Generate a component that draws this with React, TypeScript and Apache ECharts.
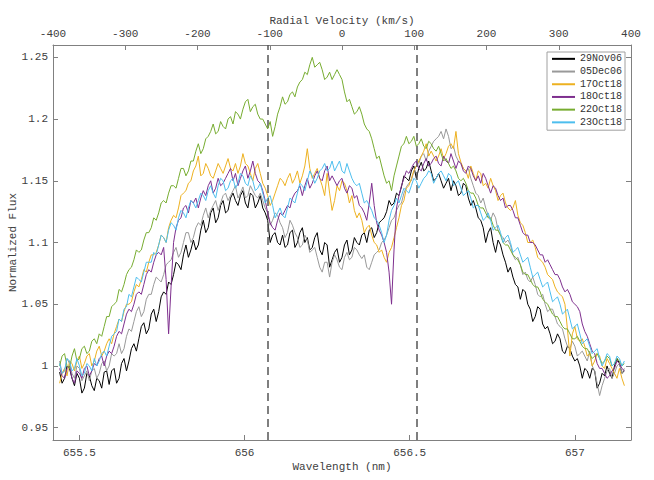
import React, { useEffect, useRef } from "react";
import * as echarts from "echarts";

// Regular wavelength sampling grid (nm)
const WAVELENGTH_START = 655.44;
const WAVELENGTH_STEP = 0.0075;

const SERIES_NAMES = ["29Nov06", "05Dec06", "17Oct18", "18Oct18", "22Oct18", "23Oct18"];
const SERIES_COLORS = ["#000000", "#999999", "#EDB120", "#7E2F8E", "#77AC30", "#4DBEEE"];

const FLUX_29NOV06 = [
  0.995, 0.986, 0.99, 1.0, 0.998, 0.99, 0.984, 0.994, 0.99, 0.978, 0.982, 0.994,
  0.992, 0.984, 0.98, 0.99, 0.988, 0.982, 0.995, 0.996, 0.985, 0.996,
  0.998, 0.986, 0.99, 1.002, 1.006, 0.996, 1.004, 1.014, 1.018, 1.012,
  1.022, 1.032, 1.035, 1.026, 1.03, 1.042, 1.046, 1.036, 1.044, 1.056,
  1.06, 1.058, 1.068, 1.066, 1.074, 1.084, 1.082, 1.078, 1.09, 1.098,
  1.088, 1.094, 1.102, 1.094, 1.098, 1.11, 1.118, 1.108, 1.112, 1.124,
  1.128, 1.116, 1.12, 1.13, 1.134, 1.124, 1.126, 1.136, 1.14, 1.134,
  1.13, 1.138, 1.142, 1.132, 1.128, 1.14, 1.138, 1.128, 1.132, 1.138,
  1.128, 1.124, 1.118, 1.1, 1.106, 1.108, 1.1, 1.098, 1.106, 1.096,
  1.098, 1.108, 1.11, 1.096, 1.1, 1.108, 1.112, 1.1, 1.104, 1.094,
  1.096, 1.104, 1.108, 1.094, 1.09, 1.1, 1.098, 1.08, 1.086, 1.092,
  1.095, 1.084, 1.088, 1.098, 1.102, 1.09, 1.094, 1.104, 1.1, 1.098,
  1.106, 1.108, 1.1, 1.11, 1.112, 1.104, 1.108, 1.116, 1.118, 1.12,
  1.125, 1.134, 1.13, 1.132, 1.14, 1.138, 1.145, 1.154, 1.152, 1.15,
  1.158, 1.162, 1.152, 1.16, 1.165, 1.158, 1.16, 1.166, 1.158, 1.15,
  1.152, 1.156, 1.15, 1.144, 1.148, 1.152, 1.142, 1.15, 1.146, 1.138,
  1.14, 1.148, 1.146, 1.136, 1.13, 1.134, 1.128, 1.12, 1.118, 1.112,
  1.1, 1.108, 1.112, 1.1, 1.092, 1.102, 1.098, 1.09, 1.084, 1.076,
  1.08, 1.072, 1.066, 1.064, 1.054, 1.062, 1.06, 1.05, 1.046, 1.036,
  1.04, 1.048, 1.046, 1.034, 1.03, 1.032, 1.026, 1.018, 1.02, 1.026,
  1.022, 1.012, 1.01, 1.016, 1.014, 1.008, 1.004, 1.006, 1.0, 0.99,
  0.998, 0.996, 0.99, 0.998, 0.996, 0.982, 0.986, 0.994, 0.992, 1.0,
  0.994, 0.99, 1.0, 1.006, 1.002, 0.994, 0.996,
];

const FLUX_05DEC06 = [
  1.004, 0.994, 0.996, 1.006, 1.002, 0.994, 0.99, 1.0, 0.998, 0.988, 0.992, 0.996,
  0.988, 0.996, 0.998, 0.99, 0.994, 1.002, 1.004, 0.996, 1.0, 1.01,
  1.008, 1.01, 1.018, 1.01, 1.014, 1.024, 1.03, 1.028, 1.036, 1.044,
  1.048, 1.04, 1.044, 1.054, 1.058, 1.058, 1.066, 1.072, 1.07, 1.068,
  1.074, 1.082, 1.084, 1.086, 1.092, 1.096, 1.088, 1.092, 1.1, 1.108,
  1.108, 1.1, 1.104, 1.112, 1.116, 1.114, 1.122, 1.128, 1.12, 1.126,
  1.13, 1.134, 1.126, 1.132, 1.138, 1.14, 1.134, 1.138, 1.142, 1.146,
  1.136, 1.14, 1.145, 1.136, 1.138, 1.146, 1.142, 1.138, 1.136, 1.14,
  1.134, 1.128, 1.124, 1.114, 1.118, 1.124, 1.122, 1.116, 1.112, 1.104,
  1.108, 1.118, 1.114, 1.108, 1.104, 1.096, 1.098, 1.106, 1.102, 1.092,
  1.094, 1.096, 1.088, 1.08, 1.076, 1.084, 1.084, 1.072, 1.084, 1.09,
  1.086, 1.08, 1.078, 1.088, 1.092, 1.086, 1.088, 1.096, 1.094, 1.09,
  1.087, 1.09, 1.08, 1.078, 1.084, 1.09, 1.092, 1.094, 1.1, 1.102,
  1.106, 1.112, 1.118, 1.12, 1.126, 1.13, 1.132, 1.14, 1.145, 1.148,
  1.15, 1.158, 1.162, 1.164, 1.17, 1.172, 1.166, 1.174, 1.178, 1.182,
  1.184, 1.186, 1.19, 1.184, 1.192, 1.186, 1.176, 1.178, 1.17, 1.166,
  1.164, 1.16, 1.158, 1.16, 1.152, 1.146, 1.14, 1.138, 1.132, 1.136,
  1.128, 1.122, 1.118, 1.124, 1.12, 1.11, 1.106, 1.104, 1.1, 1.102,
  1.098, 1.09, 1.086, 1.088, 1.082, 1.074, 1.076, 1.07, 1.068, 1.072,
  1.066, 1.058, 1.056, 1.058, 1.05, 1.044, 1.046, 1.046, 1.04, 1.034,
  1.032, 1.03, 1.022, 1.016, 1.014, 1.02, 1.016, 1.008, 1.01, 1.012,
  1.008, 1.004, 1.012, 1.0, 0.996, 0.986, 0.976, 0.984, 0.99, 0.996,
  0.998, 0.99, 0.994, 1.0, 1.002, 0.994, 0.998,
];

const FLUX_17OCT18 = [
  0.986, 0.994, 0.998, 0.992, 1.004, 1.002, 0.996, 1.004, 1.008, 0.998, 1.002, 1.008,
  1.01, 1.0, 1.004, 1.012, 1.016, 1.008, 1.012, 1.018, 1.022, 1.018,
  1.026, 1.032, 1.038, 1.036, 1.044, 1.05, 1.05, 1.052, 1.06, 1.066,
  1.064, 1.07, 1.078, 1.076, 1.084, 1.09, 1.09, 1.092, 1.098, 1.106,
  1.104, 1.1, 1.112, 1.118, 1.122, 1.12, 1.128, 1.138, 1.14, 1.142,
  1.148, 1.15, 1.158, 1.162, 1.17, 1.154, 1.156, 1.164, 1.16, 1.154,
  1.152, 1.158, 1.164, 1.16, 1.156, 1.162, 1.168, 1.16, 1.158, 1.164,
  1.156, 1.162, 1.172, 1.164, 1.162, 1.156, 1.15, 1.16, 1.164, 1.156,
  1.148, 1.144, 1.138, 1.13, 1.134, 1.14, 1.146, 1.152, 1.15, 1.146,
  1.152, 1.156, 1.148, 1.152, 1.158, 1.148, 1.154, 1.162, 1.176, 1.16,
  1.152, 1.156, 1.16, 1.152, 1.146, 1.138, 1.156, 1.14, 1.126, 1.134,
  1.146, 1.142, 1.15, 1.148, 1.142, 1.132, 1.138, 1.126, 1.12, 1.124,
  1.118, 1.108, 1.112, 1.114, 1.106, 1.1, 1.098, 1.092, 1.094, 1.088,
  1.084, 1.092, 1.096, 1.104, 1.112, 1.12, 1.13, 1.134, 1.144, 1.146,
  1.152, 1.158, 1.162, 1.166, 1.17, 1.174, 1.18, 1.17, 1.174, 1.17,
  1.166, 1.17, 1.176, 1.168, 1.172, 1.178, 1.18, 1.176, 1.19, 1.172,
  1.165, 1.16, 1.158, 1.152, 1.162, 1.156, 1.15, 1.158, 1.156, 1.146,
  1.148, 1.144, 1.152, 1.146, 1.142, 1.134, 1.138, 1.14, 1.132, 1.128,
  1.126, 1.128, 1.134, 1.122, 1.116, 1.114, 1.108, 1.1, 1.1, 1.102,
  1.096, 1.088, 1.086, 1.084, 1.08, 1.074, 1.072, 1.07, 1.064, 1.06,
  1.058, 1.056, 1.05, 1.03, 1.008, 1.026, 1.032, 1.022, 1.02, 1.022,
  1.016, 1.008, 1.01, 1.0, 1.004, 1.01, 1.008, 1.0, 0.998, 1.006,
  1.002, 0.998, 0.994, 0.99, 0.998, 0.99, 0.984,
];

const FLUX_18OCT18 = [
  0.998, 0.992, 0.99, 0.998, 1.0, 0.99, 0.986, 0.996, 0.994, 0.99, 0.998, 1.0,
  0.992, 0.996, 1.002, 1.0, 1.006, 1.008, 1.0, 1.008, 1.012, 1.01,
  1.016, 1.024, 1.028, 1.026, 1.034, 1.042, 1.046, 1.044, 1.05, 1.058,
  1.06, 1.058, 1.066, 1.074, 1.078, 1.076, 1.084, 1.09, 1.092, 1.09,
  1.096, 1.07, 1.026, 1.064, 1.1, 1.112, 1.118, 1.12, 1.128, 1.13,
  1.124, 1.134, 1.132, 1.136, 1.128, 1.136, 1.142, 1.138, 1.146, 1.15,
  1.14, 1.144, 1.152, 1.146, 1.148, 1.152, 1.156, 1.16, 1.15, 1.156,
  1.146, 1.152, 1.158, 1.162, 1.152, 1.158, 1.166, 1.156, 1.15, 1.148,
  1.142, 1.134, 1.124, 1.116, 1.112, 1.11, 1.118, 1.124, 1.122, 1.126,
  1.13, 1.128, 1.136, 1.14, 1.142, 1.146, 1.138, 1.146, 1.152, 1.144,
  1.148, 1.154, 1.158, 1.152, 1.15, 1.158, 1.162, 1.15, 1.154, 1.15,
  1.146, 1.15, 1.152, 1.144, 1.14, 1.146, 1.144, 1.136, 1.138, 1.13,
  1.128, 1.124, 1.118, 1.132, 1.148, 1.13, 1.116, 1.11, 1.106, 1.1,
  1.092, 1.076, 1.05, 1.094, 1.128, 1.138, 1.146, 1.152, 1.158, 1.156,
  1.16, 1.164, 1.166, 1.16, 1.158, 1.164, 1.168, 1.162, 1.164, 1.168,
  1.17, 1.164, 1.162, 1.17, 1.166, 1.164, 1.172, 1.166, 1.16, 1.166,
  1.164, 1.158, 1.156, 1.162, 1.16, 1.154, 1.15, 1.154, 1.148, 1.156,
  1.152, 1.146, 1.14, 1.146, 1.144, 1.138, 1.134, 1.136, 1.128, 1.13,
  1.13, 1.126, 1.12, 1.12, 1.114, 1.108, 1.106, 1.106, 1.1, 1.1,
  1.098, 1.094, 1.09, 1.09, 1.084, 1.086, 1.082, 1.078, 1.074, 1.074,
  1.07, 1.064, 1.06, 1.062, 1.058, 1.052, 1.05, 1.048, 1.044, 1.034,
  1.028, 1.024, 1.018, 1.012, 1.01, 1.002, 0.998, 0.998, 0.994, 0.99,
  0.992, 0.996, 0.998, 1.004, 1.002, 0.998, 0.996,
];

const FLUX_22OCT18 = [
  1.0, 1.008, 1.01, 1.0, 0.998, 1.008, 1.014, 1.004, 1.006, 1.014, 1.016, 1.01,
  1.012, 1.02, 1.022, 1.018, 1.026, 1.024, 1.032, 1.04, 1.04, 1.048,
  1.05, 1.052, 1.062, 1.06, 1.066, 1.074, 1.078, 1.08, 1.086, 1.094,
  1.092, 1.094, 1.102, 1.108, 1.108, 1.112, 1.12, 1.118, 1.124, 1.132,
  1.134, 1.132, 1.14, 1.146, 1.146, 1.144, 1.152, 1.16, 1.16, 1.154,
  1.158, 1.166, 1.166, 1.174, 1.18, 1.172, 1.176, 1.184, 1.186, 1.19,
  1.196, 1.188, 1.19, 1.198, 1.194, 1.192, 1.2, 1.202, 1.196, 1.206,
  1.204, 1.2, 1.208, 1.214, 1.216, 1.206, 1.21, 1.212, 1.204, 1.2,
  1.2, 1.196, 1.192, 1.198, 1.186, 1.194, 1.204, 1.21, 1.218, 1.212,
  1.214, 1.22, 1.222, 1.218, 1.226, 1.23, 1.232, 1.238, 1.236, 1.244,
  1.25, 1.242, 1.244, 1.246, 1.24, 1.232, 1.234, 1.238, 1.232, 1.236,
  1.24, 1.236, 1.232, 1.222, 1.214, 1.216, 1.21, 1.204, 1.206, 1.21,
  1.204, 1.196, 1.192, 1.19, 1.184, 1.176, 1.168, 1.17, 1.162, 1.154,
  1.148, 1.15, 1.142, 1.154, 1.162, 1.17, 1.178, 1.18, 1.186, 1.18,
  1.182, 1.186, 1.178, 1.18, 1.184, 1.178, 1.176, 1.182, 1.18, 1.176,
  1.174, 1.178, 1.172, 1.166, 1.168, 1.164, 1.16, 1.162, 1.158, 1.152,
  1.15, 1.152, 1.148, 1.142, 1.14, 1.14, 1.136, 1.13, 1.128, 1.128,
  1.124, 1.12, 1.12, 1.114, 1.11, 1.11, 1.106, 1.1, 1.098, 1.098,
  1.094, 1.09, 1.088, 1.086, 1.082, 1.076, 1.074, 1.074, 1.07, 1.066,
  1.064, 1.064, 1.06, 1.054, 1.052, 1.05, 1.046, 1.042, 1.04, 1.04,
  1.036, 1.032, 1.03, 1.03, 1.026, 1.022, 1.022, 1.024, 1.02, 1.016,
  1.014, 1.014, 1.01, 1.006, 1.008, 1.01, 1.006, 1.002, 1.004, 1.008,
  1.006, 1.0, 1.002, 1.006, 1.004, 1.0, 1.002,
];

const FLUX_23OCT18 = [
  1.002, 0.994, 0.996, 1.006, 1.004, 0.996, 0.998, 1.006, 1.0, 0.992, 0.994, 1.002,
  1.0, 0.996, 1.006, 1.0, 1.004, 1.01, 1.012, 1.008, 1.016, 1.024,
  1.026, 1.028, 1.038, 1.036, 1.046, 1.048, 1.058, 1.056, 1.064, 1.072,
  1.07, 1.068, 1.076, 1.084, 1.084, 1.084, 1.092, 1.09, 1.098, 1.106,
  1.104, 1.1, 1.11, 1.116, 1.114, 1.11, 1.12, 1.126, 1.124, 1.12,
  1.128, 1.134, 1.132, 1.128, 1.134, 1.14, 1.138, 1.134, 1.142, 1.146,
  1.14, 1.136, 1.146, 1.152, 1.15, 1.142, 1.144, 1.15, 1.152, 1.144,
  1.148, 1.156, 1.154, 1.148, 1.146, 1.154, 1.15, 1.142, 1.144, 1.148,
  1.14, 1.132, 1.136, 1.138, 1.13, 1.12, 1.124, 1.128, 1.122, 1.12,
  1.128, 1.136, 1.134, 1.132, 1.14, 1.148, 1.146, 1.142, 1.15, 1.158,
  1.154, 1.148, 1.152, 1.158, 1.16, 1.164, 1.158, 1.16, 1.166, 1.158,
  1.162, 1.166, 1.158, 1.156, 1.164, 1.158, 1.152, 1.148, 1.146, 1.148,
  1.14, 1.132, 1.134, 1.13, 1.126, 1.12, 1.118, 1.114, 1.108, 1.1,
  1.106, 1.118, 1.126, 1.13, 1.136, 1.132, 1.138, 1.144, 1.142, 1.14,
  1.146, 1.152, 1.15, 1.144, 1.148, 1.152, 1.154, 1.158, 1.156, 1.148,
  1.152, 1.156, 1.158, 1.154, 1.15, 1.156, 1.154, 1.146, 1.148, 1.15,
  1.144, 1.138, 1.14, 1.142, 1.136, 1.128, 1.13, 1.13, 1.124, 1.118,
  1.12, 1.124, 1.118, 1.11, 1.112, 1.114, 1.108, 1.1, 1.104, 1.106,
  1.1, 1.092, 1.094, 1.096, 1.09, 1.084, 1.086, 1.088, 1.08, 1.072,
  1.074, 1.076, 1.07, 1.064, 1.066, 1.068, 1.06, 1.052, 1.054, 1.056,
  1.05, 1.042, 1.044, 1.046, 1.038, 1.03, 1.032, 1.034, 1.026, 1.018,
  1.02, 1.022, 1.016, 1.01, 1.012, 1.014, 1.006, 1.0, 1.004, 1.01,
  1.008, 1.0, 1.002, 1.008, 1.006, 1.0, 1.004,
];

const SERIES_FLUX = [FLUX_29NOV06, FLUX_05DEC06, FLUX_17OCT18, FLUX_18OCT18, FLUX_22OCT18, FLUX_23OCT18];

const DASHED_WAVELENGTHS = [656.07, 656.525];

const WAVELENGTH_MIN = 655.42;
const WAVELENGTH_MAX = 657.17;
const VELOCITY_MIN = -400;
const VELOCITY_MAX = 400;
const VELOCITY_INTERVAL = 100;
const FLUX_MIN = 0.94;
const FLUX_MAX = 1.26;

const FONT = "'Liberation Mono', 'DejaVu Sans Mono', monospace";
const AXIS_COLOR = "#808080";
const TEXT_COLOR = "#404040";

export default function App() {
  const ref = useRef<HTMLDivElement>(null);

  useEffect(() => {
    if (!ref.current) return;
    const chart = echarts.init(ref.current, undefined, { renderer: "svg" });

    const axisLine = { show: true, onZero: false, lineStyle: { color: AXIS_COLOR, width: 1 } };
    const axisTick = { show: true, inside: true, length: 5, lineStyle: { color: AXIS_COLOR, width: 1 } };
    const labelStyle = { color: TEXT_COLOR, fontFamily: FONT, fontSize: 11 };
    const nameStyle = { color: TEXT_COLOR, fontFamily: FONT, fontSize: 11 };

    const series: any[] = SERIES_NAMES.map((name, i) => ({
      type: "line",
      name,
      xAxisIndex: 0,
      yAxisIndex: 0,
      symbol: "none",
      showSymbol: false,
      lineStyle: { width: 1, color: SERIES_COLORS[i] },
      itemStyle: { color: SERIES_COLORS[i] },
      data: SERIES_FLUX[i].map((f, k) => [WAVELENGTH_START + WAVELENGTH_STEP * k, f]),
      z: 2 + i,
    }));
    series[0].markLine = {
      silent: true,
      symbol: ["none", "none"],
      label: { show: false },
      lineStyle: { type: [8, 5], color: "#555555", width: 1.5 },
      data: DASHED_WAVELENGTHS.map((x) => ({ xAxis: x })),
    };

    chart.setOption({
      animation: false,
      backgroundColor: "#ffffff",
      grid: {
        left: 53,
        right: 23,
        top: 45,
        bottom: 40,
        containLabel: false,
        outerBoundsMode: "none",
      },
      legend: {
        left: 547,
        top: 52,
        orient: "vertical",
        padding: [1, 3, 2, 5],
        itemGap: 1,
        itemWidth: 23,
        itemHeight: 2,
        icon: "rect",
        backgroundColor: "#ffffff",
        borderColor: "#a0a0a0",
        borderWidth: 1,
        borderRadius: 0,
        textStyle: { fontFamily: FONT, fontSize: 10, color: "#333333", lineHeight: 11.7 },
        data: SERIES_NAMES,
      },
      xAxis: [
        {
          type: "value",
          position: "bottom",
          min: WAVELENGTH_MIN,
          max: WAVELENGTH_MAX,
          splitNumber: 4,
          minInterval: 0.5,
          maxInterval: 0.5,
          axisLine,
          axisTick,
          splitLine: { show: false },
          axisLabel: { ...labelStyle, margin: 7, showMinLabel: false, showMaxLabel: false },
          name: "Wavelength (nm)",
          nameLocation: "middle",
          nameGap: 21,
          nameMoveOverlap: false,
          nameTextStyle: nameStyle,
        },
        {
          type: "value",
          position: "top",
          min: VELOCITY_MIN,
          max: VELOCITY_MAX,
          interval: VELOCITY_INTERVAL,
          axisLine,
          axisTick,
          splitLine: { show: false },
          axisLabel: { ...labelStyle, margin: 6 },
          name: "Radial Velocity (km/s)",
          nameLocation: "middle",
          nameGap: 19,
          nameMoveOverlap: false,
          nameTextStyle: nameStyle,
        },
      ],
      yAxis: [
        {
          type: "value",
          position: "left",
          min: FLUX_MIN,
          max: FLUX_MAX,
          splitNumber: 6,
          minInterval: 0.05,
          maxInterval: 0.05,
          axisLine,
          axisTick,
          splitLine: { show: false },
          axisLabel: { ...labelStyle, margin: 5, showMinLabel: false, showMaxLabel: false },
          name: "Normalized Flux",
          nameLocation: "middle",
          nameGap: 35,
          nameMoveOverlap: false,
          nameTextStyle: nameStyle,
        },
        {
          type: "value",
          position: "right",
          min: FLUX_MIN,
          max: FLUX_MAX,
          splitNumber: 6,
          minInterval: 0.05,
          maxInterval: 0.05,
          axisLine,
          axisTick,
          splitLine: { show: false },
          axisLabel: { show: false },
        },
      ],
      series,
    });

    return () => chart.dispose();
  }, []);

  return (
    <div
      ref={ref}
      style={{ position: "fixed", left: 0, top: 0, width: 654, height: 480, background: "#fff" }}
    />
  );
}
